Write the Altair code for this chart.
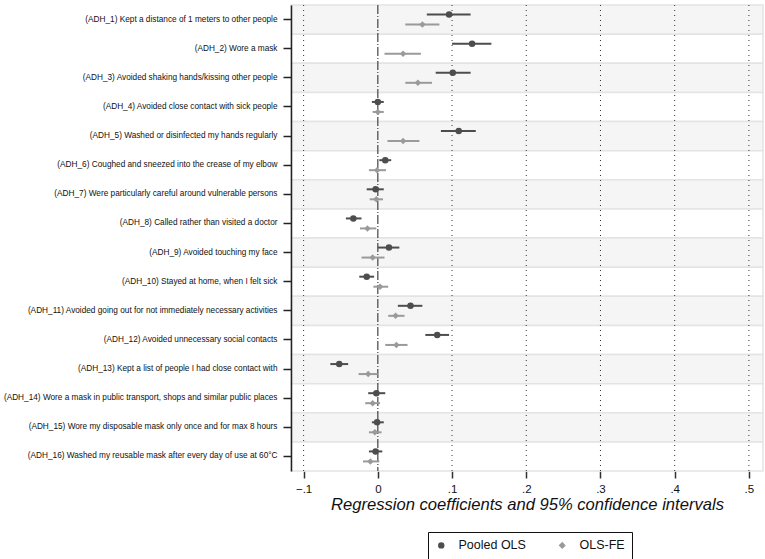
import altair as alt
import pandas as pd

# Survey items (one row each)
labels = [
    "(ADH_1) Kept a distance of 1 meters to other people",
    "(ADH_2) Wore a mask",
    "(ADH_3) Avoided shaking hands/kissing other people",
    "(ADH_4) Avoided close contact with sick people",
    "(ADH_5) Washed or disinfected my hands regularly",
    "(ADH_6) Coughed and sneezed into the crease of my elbow",
    "(ADH_7) Were particularly careful around vulnerable persons",
    "(ADH_8) Called rather than visited a doctor",
    "(ADH_9) Avoided touching my face",
    "(ADH_10) Stayed at home, when I felt sick",
    "(ADH_11) Avoided going out for not immediately necessary activities",
    "(ADH_12) Avoided unnecessary social contacts",
    "(ADH_13) Kept a list of people I had close contact with",
    "(ADH_14) Wore a mask in public transport, shops and similar public places",
    "(ADH_15) Wore my disposable mask only once and for max 8 hours",
    "(ADH_16) Washed my reusable mask after every day of use at 60\u00b0C",
]

models = ["Pooled OLS", "OLS-FE"]

# Pooled OLS: coefficient and 95% CI bounds
ols_coef = [0.096, 0.127, 0.101, 0.000, 0.109, 0.010, -0.003, -0.033,
            0.015, -0.015, 0.044, 0.080, -0.052, -0.002, -0.001, -0.003]
ols_lo = [0.066, 0.100, 0.078, -0.008, 0.085, 0.002, -0.015, -0.043,
          0.000, -0.025, 0.027, 0.064, -0.064, -0.013, -0.008, -0.012]
ols_hi = [0.125, 0.153, 0.125, 0.008, 0.132, 0.018, 0.008, -0.022,
          0.029, -0.005, 0.060, 0.096, -0.040, 0.010, 0.008, 0.006]

# OLS with fixed effects: coefficient and 95% CI bounds
fe_coef = [0.060, 0.034, 0.054, 0.000, 0.034, -0.001, -0.002, -0.014,
           -0.007, 0.003, 0.024, 0.025, -0.013, -0.007, -0.004, -0.010]
fe_lo = [0.037, 0.009, 0.037, -0.007, 0.013, -0.012, -0.011, -0.024,
         -0.022, -0.006, 0.014, 0.010, -0.026, -0.017, -0.012, -0.020]
fe_hi = [0.083, 0.058, 0.073, 0.008, 0.056, 0.011, 0.007, -0.002,
         0.009, 0.014, 0.036, 0.040, 0.000, 0.003, 0.005, 0.002]

x_ticks = [-0.1, 0.0, 0.1, 0.2, 0.3, 0.4, 0.5]

rows = []
for i, lab in enumerate(labels):
    rows.append({"item": lab, "model": models[0],
                 "coef": ols_coef[i], "lo": ols_lo[i], "hi": ols_hi[i]})
    rows.append({"item": lab, "model": models[1],
                 "coef": fe_coef[i], "lo": fe_lo[i], "hi": fe_hi[i]})
est = pd.DataFrame(rows)
bands = pd.DataFrame({"item": labels, "row": list(range(len(labels)))})
grid = pd.DataFrame({"v": [t for t in x_ticks if t != 0]})
zero = pd.DataFrame({"v": [0.0]})

FONT = "Liberation Sans"
dark = "#4d4d4d"
light = "#9a9a9a"

x_scale = alt.Scale(domain=[-0.117, 0.519], nice=False, zero=False)
y_enc = alt.Y(
    "item:N",
    sort=labels,
    scale=alt.Scale(domain=labels, paddingInner=0, paddingOuter=0),
    axis=alt.Axis(
        title=None, labelFont=FONT, labelFontSize=8.25, labelColor="#111",
        labelLimit=400, labelPadding=6, tickSize=8, tickWidth=1.5,
        tickColor="#222", domainColor="#222", domainWidth=1.5, grid=False,
    ),
)
x_axis = alt.Axis(
    values=x_ticks,
    labelExpr="datum.value == 0 ? '0' : replace(format(datum.value, '.1f'), '0.', '.')",
    title="Regression coefficients and 95% confidence intervals",
    titleFont=FONT, titleFontSize=16.6, titleFontStyle="italic",
    titleFontWeight="normal", titleColor="#111", titlePadding=2,
    labelFont=FONT, labelFontSize=11.5, labelColor="#111", labelPadding=5,
    tickSize=7, tickWidth=1.5, tickColor="#333", domain=False, grid=False,
)
off_scale = alt.Scale(domain=models, paddingInner=0, paddingOuter=0.456)

band_layer = alt.Chart(bands).mark_rect(stroke="#e4e4e4", strokeWidth=1.5).encode(
    y=y_enc,
    fill=alt.condition("datum.row % 2 == 0", alt.value("#f5f5f5"), alt.value("#ffffff")),
)

grid_layer = alt.Chart(grid).mark_rule(
    color="#333", strokeWidth=1, strokeDash=[1, 4]
).encode(x=alt.X("v:Q", scale=x_scale, axis=x_axis))

zero_layer = alt.Chart(zero).mark_rule(
    color="#444", strokeWidth=1.2, strokeDash=[9, 2, 1, 2]
).encode(x=alt.X("v:Q", scale=x_scale))

color_enc = alt.Color(
    "model:N",
    scale=alt.Scale(domain=models, range=[dark, light]),
    legend=alt.Legend(
        title=None, orient="none", legendX=137, legendY=527,
        direction="horizontal",
        labelFont=FONT, labelFontSize=12.5, labelColor="#111",
        strokeColor="#111", padding=7, columnPadding=30,
        symbolSize=24, labelOffset=11,
    ),
)
shape_enc = alt.Shape(
    "model:N",
    scale=alt.Scale(domain=models, range=["circle", "diamond"]),
    legend=None,
)

ci_layer = alt.Chart(est).mark_rule(strokeWidth=2).encode(
    x=alt.X("lo:Q", scale=x_scale),
    x2="hi:Q",
    y=alt.Y("item:N", sort=labels),
    yOffset=alt.YOffset("model:N", scale=off_scale),
    color=color_enc,
)

pt_layer = alt.Chart(est).mark_point(filled=True, opacity=1, size=42).encode(
    x=alt.X("coef:Q", scale=x_scale),
    y=alt.Y("item:N", sort=labels),
    yOffset=alt.YOffset("model:N", scale=off_scale),
    color=color_enc,
    shape=shape_enc,
)

chart = alt.layer(
    band_layer, grid_layer, zero_layer, ci_layer, pt_layer
).properties(
    width=472, height=466,
    padding={"left": 291, "top": 5, "right": 2, "bottom": 88},
    autosize="none",
    background="white",
).configure_view(stroke=None)

chart.save("out.html", embed_options={"renderer": "svg", "actions": False})
